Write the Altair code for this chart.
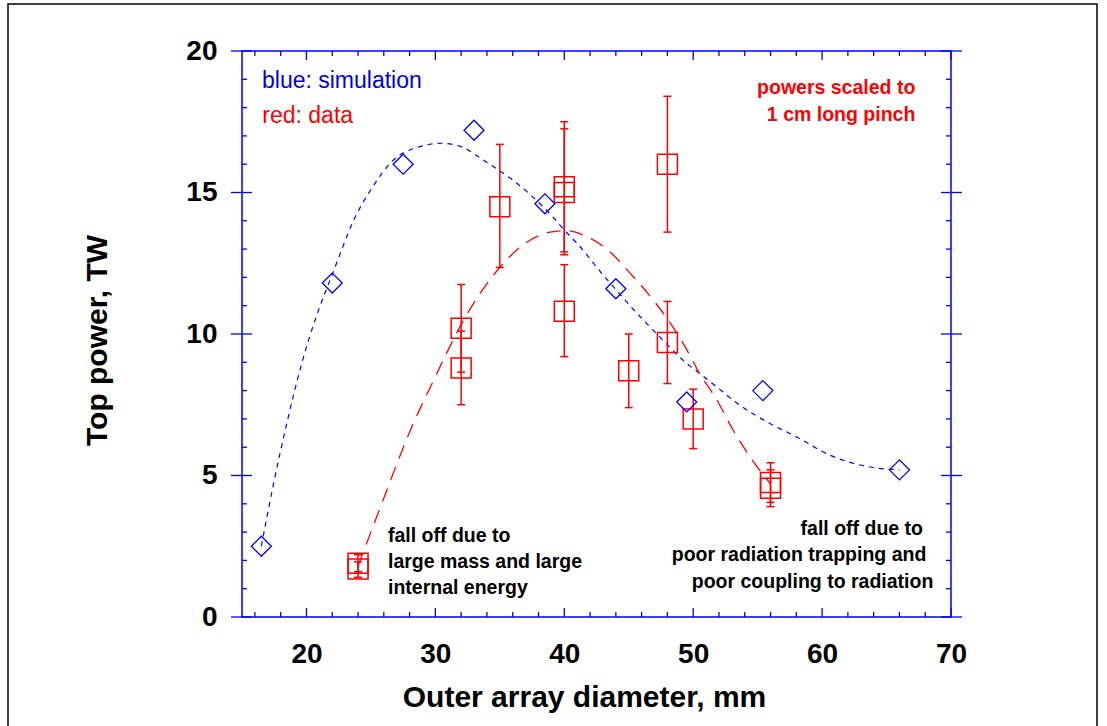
import altair as alt
import pandas as pd

# ---- simulation: blue diamonds ----
sim_d = [16.5, 22.0, 27.5, 33.0, 38.5, 44.0, 49.5, 55.4, 66.0]
sim_p = [2.5, 11.8, 16.0, 17.2, 14.6, 11.6, 7.6, 8.0, 5.2]

# smooth trend drawn through the simulation points
sim_fit_d = [16.5, 17.4, 18.4, 19.6, 20.9, 22.0, 23.8, 25.0, 26.75, 28.8, 30.4, 32.0,
             33.7, 36.0, 37.1, 39.2, 40.0, 41.0, 42.8, 44.6, 45.4, 47.4, 49.5, 50.5,
             51.8, 53.6, 55.7, 58.0, 60.6, 63.7, 66.0]
sim_fit_p = [2.5, 4.6, 6.7, 8.9, 10.8, 12.1, 14.15, 15.1, 16.15, 16.62, 16.74, 16.62,
             16.15, 15.44, 15.03, 14.09, 13.67, 13.2, 12.2, 11.26, 10.85, 9.9, 8.96, 8.61,
             8.14, 7.49, 6.9, 6.37, 5.72, 5.3, 5.2]

# ---- measurements: red squares with error bars ----
dat_d = [24, 24, 32, 32, 35, 40, 40, 40, 45, 48, 48, 50, 56, 56]
dat_p = [1.9, 1.7, 10.2, 8.8, 14.5, 15.2, 15.0, 10.8, 8.7, 16.0, 9.7, 7.0, 4.75, 4.55]
dat_lo = [1.6, 1.4, 8.65, 7.5, 12.35, 12.9, 12.8, 9.2, 7.4, 13.6, 8.25, 5.95, 4.05, 3.9]
dat_hi = [2.2, 1.95, 11.75, 10.1, 16.7, 17.5, 17.25, 12.45, 10.0, 18.4, 11.15, 8.05, 5.45, 5.2]

# smooth trend drawn through the measurements
dat_fit_d = [24.0, 25.0, 26.0, 27.0, 28.3, 29.85, 30.9, 32.2, 33.5, 35.0, 36.8, 38.9,
             40.2, 41.7, 43.3, 45.1, 46.9, 48.2, 49.5, 50.5, 51.8, 53.1, 54.5, 56.0]
dat_fit_p = [1.8, 3.0, 4.2, 5.4, 6.85, 8.35, 9.35, 10.5, 11.45, 12.35, 13.15, 13.6,
             13.65, 13.45, 13.0, 12.15, 11.2, 10.4, 9.45, 8.6, 7.7, 6.6, 5.6, 4.7]

# ---- axis ticks ----
x_major = [20, 30, 40, 50, 60, 70]
x_minor = [16, 18, 22, 24, 26, 28, 32, 34, 36, 38, 42, 44, 46, 48, 52, 54, 56, 58,
           62, 64, 66, 68]
y_major = [0, 5, 10, 15, 20]
y_minor = [1, 2, 3, 4, 6, 7, 8, 9, 11, 12, 13, 14, 16, 17, 18, 19]

BLUE = "#0000ff"
RED = "#ff0000"
FONT = "Liberation Sans"
W, H = 709, 566

xs = alt.Scale(domain=[15, 70], nice=False, zero=False)
ys = alt.Scale(domain=[0, 20], nice=False, zero=False)

x_axis = alt.Axis(values=x_major, ticks=False, tickSize=0, domain=False, grid=False,
                  labelPadding=23, labelFontSize=28, labelFontWeight="bold",
                  labelFont=FONT, labelColor="black", labelFlush=False,
                  title="Outer array diameter, mm", titleFontSize=30,
                  titleFontWeight="bold", titleFont=FONT, titleColor="black",
                  titleX=342, titleY=89, titleAlign="center",
                  titleBaseline="alphabetic")
y_axis = alt.Axis(values=y_major, ticks=False, tickSize=0, domain=False, grid=False,
                  labelPadding=25, labelFontSize=28, labelFontWeight="bold",
                  labelFont=FONT, labelColor="black", labelFlush=False,
                  title="Top power, TW", titleFontSize=30, titleFontWeight="bold",
                  titleFont=FONT, titleColor="black", titleAngle=270,
                  titleX=-136, titleY=289, titleAlign="center",
                  titleBaseline="alphabetic")

X = alt.X("x:Q", scale=xs, axis=x_axis)
Y = alt.Y("y:Q", scale=ys, axis=y_axis)

sim_pts = pd.DataFrame({"x": sim_d, "y": sim_p})
sim_fit = pd.DataFrame({"x": sim_fit_d, "y": sim_fit_p})
dat_pts = pd.DataFrame({"x": dat_d, "y": dat_p, "lo": dat_lo, "hi": dat_hi})
dat_fit = pd.DataFrame({"x": dat_fit_d, "y": dat_fit_p})

one = pd.DataFrame({"k": [0]})

layers = []

# outer frame of the figure
layers.append(
    alt.Chart(one).mark_rect(filled=False, stroke="black", strokeWidth=1.5).encode(
        x=alt.value(-234), x2=alt.value(855), y=alt.value(-47), y2=alt.value(700)
    )
)

# ticks: bottom / top (inward), left / right (major crossing, minor inward)
xmaj = pd.DataFrame({"x": x_major})
xmin = pd.DataFrame({"x": x_minor})
ymaj = pd.DataFrame({"y": y_major})
ymin = pd.DataFrame({"y": y_minor})
tick_style = dict(color=BLUE, strokeWidth=1.3)
layers += [
    alt.Chart(xmaj).mark_rule(**tick_style).encode(x=X, y=alt.value(H), y2=alt.value(H - 9)),
    alt.Chart(xmin).mark_rule(**tick_style).encode(x=X, y=alt.value(H), y2=alt.value(H - 5)),
    alt.Chart(xmaj).mark_rule(**tick_style).encode(x=X, y=alt.value(0), y2=alt.value(9)),
    alt.Chart(xmin).mark_rule(**tick_style).encode(x=X, y=alt.value(0), y2=alt.value(5)),
    alt.Chart(ymaj).mark_rule(**tick_style).encode(y=Y, x=alt.value(-11), x2=alt.value(10)),
    alt.Chart(ymin).mark_rule(**tick_style).encode(y=Y, x=alt.value(0), x2=alt.value(5)),
    alt.Chart(ymaj).mark_rule(**tick_style).encode(y=Y, x=alt.value(W - 10), x2=alt.value(W + 11)),
    alt.Chart(ymin).mark_rule(**tick_style).encode(y=Y, x=alt.value(W - 5), x2=alt.value(W)),
]

# trend curves
layers.append(
    alt.Chart(sim_fit).mark_line(color=BLUE, strokeWidth=1.2, strokeDash=[5, 5],
                                 interpolate="monotone").encode(x=X, y=Y)
)
layers.append(
    alt.Chart(dat_fit).mark_line(color=RED, strokeWidth=1.3, strokeDash=[14, 9],
                                 interpolate="monotone").encode(x=X, y=Y)
)

# error bars with caps
err = alt.Chart(dat_pts)
layers.append(err.mark_rule(color=RED, strokeWidth=1.5).encode(x=X, y=alt.Y("lo:Q", scale=ys, axis=y_axis), y2="hi:Q"))
layers.append(err.mark_rule(color=RED, strokeWidth=1.5, xOffset=-4, x2Offset=4).encode(
    x=X, x2="x:Q", y=alt.Y("lo:Q", scale=ys, axis=y_axis)))
layers.append(err.mark_rule(color=RED, strokeWidth=1.5, xOffset=-4, x2Offset=4).encode(
    x=X, x2="x:Q", y=alt.Y("hi:Q", scale=ys, axis=y_axis)))

# markers
layers.append(
    alt.Chart(dat_pts).mark_point(shape="square", size=400, filled=False, color=RED,
                                  strokeWidth=1.5, opacity=1).encode(x=X, y=Y)
)
layers.append(
    alt.Chart(sim_pts).mark_point(shape="diamond", size=400, filled=False, color=BLUE,
                                  strokeWidth=1.3, opacity=1).encode(x=X, y=Y)
)


def label(text, px, py, color="black", size=19.5, weight="bold", align="left"):
    return alt.Chart(one).mark_text(
        text=text, font=FONT, fontSize=size, fontWeight=weight, color=color,
        align=align, baseline="alphabetic"
    ).encode(x=alt.value(px), y=alt.value(py))


layers += [
    label("blue: simulation", 20, 37.3, color="#0000dd", size=23, weight="normal"),
    label("red: data", 20.3, 72, color=RED, size=23, weight="normal"),
    label("powers scaled to", 673.3, 43, color=RED, align="right"),
    label("1 cm long pinch", 673.3, 70, color=RED, align="right"),
    label("fall off due to", 146, 490.5),
    label("large mass and large", 146, 516.5),
    label("internal energy", 146, 542.5),
    label("fall off due to", 681, 483.5, align="right"),
    label("poor radiation trapping and", 684.3, 510, align="right"),
    label("poor coupling to radiation", 691.3, 536.5, align="right"),
]

chart = alt.layer(*layers).properties(
    width=W, height=H,
    padding={"left": 242, "top": 51, "right": 156, "bottom": 109},
    autosize=alt.AutoSizeParams(type="none"),
    background="white",
).configure_view(stroke=BLUE, strokeWidth=1.5)

chart.save("out.html", embed_options={"renderer": "svg", "actions": False})
